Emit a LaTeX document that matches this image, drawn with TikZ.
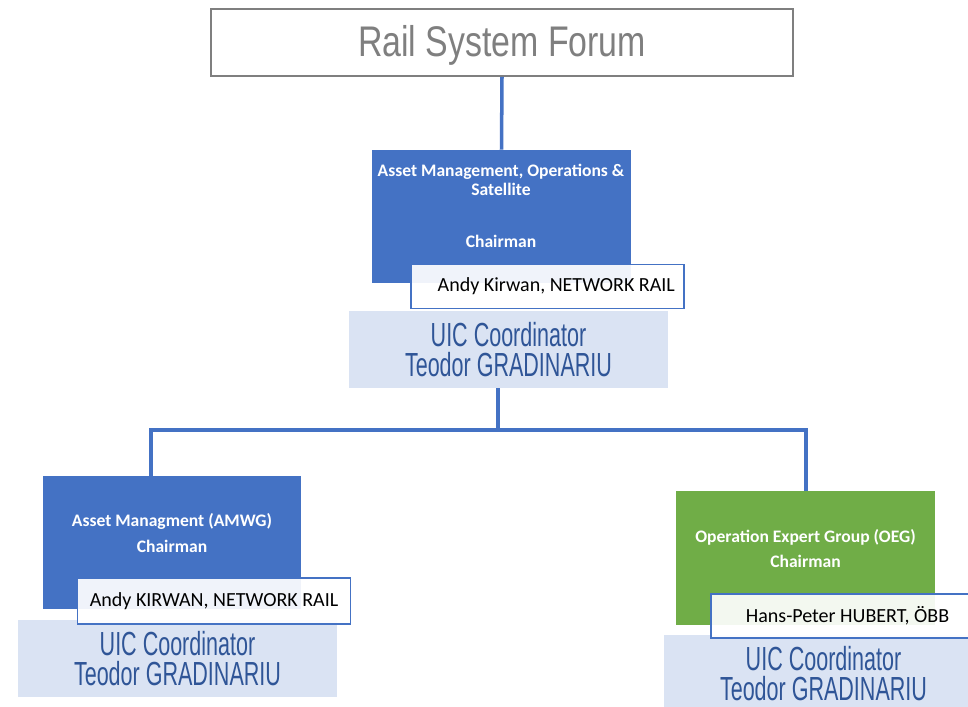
\documentclass[tikz,border=0pt]{standalone}
\usepackage{fontspec}
\setmainfont{Carlito}
\newfontfamily\narrowfont[FakeStretch=0.79]{Liberation Sans}
\newfontfamily\uicfont[FakeStretch=0.645]{Liberation Sans}
\definecolor{wgblue}{HTML}{4472C4}
\definecolor{wggreen}{HTML}{70AD47}
\definecolor{uicfill}{HTML}{DAE3F3}
\definecolor{uictext}{HTML}{2F5597}
\definecolor{forumgray}{HTML}{7F7F7F}

\begin{document}
\begin{tikzpicture}[x=0.02cm,y=-0.02cm,
  forum/.style={draw=forumgray,line width=1.1pt,minimum width=11.64cm,minimum height=1.34cm,text=forumgray,font=\narrowfont\fontsize{24.4}{28}\selectfont},
  group/.style={minimum width=5.18cm,minimum height=2.66cm,inner sep=0pt},
  headtext/.style={text=white,align=center,font=\bfseries\fontsize{10}{10.8}\selectfont},
  namebox/.style={draw=wgblue,line width=1.1pt,fill=white,fill opacity=0.92,text opacity=1,minimum width=5.46cm,minimum height=0.88cm,font=\fontsize{11.4}{13}\selectfont},
  uicbox/.style={fill=uicfill,minimum width=6.38cm,minimum height=1.54cm,align=center,text=uictext,font=\uicfont\fontsize{19}{17.4}\selectfont},
  link/.style={draw=wgblue,line width=2pt}]
\useasboundingbox (0,0) rectangle (968,707);
% forum
\node[forum,text height=21.5pt,text depth=5pt] (RSF) at (502,42.5) {Rail System Forum};
% top group
\node[group,fill=wgblue] (AMO) at (501.5,216.5) {};
\node[headtext] (AMOt) at (501,206) {Asset Management, Operations \&\\Satellite\\[18.7pt]Chairman};
\node[uicbox] (AMOu) at (508.5,349.5) {UIC Coordinator\\Teodor GRADINARIU};
\node[namebox] (AMOn) at (547.5,286.5) {\hspace*{10pt}Andy Kirwan, NETWORK RAIL};
% asset managment
\node[group,fill=wgblue,minimum width=5.16cm] (AMWG) at (172,542.5) {};
\node[headtext,font=\bfseries\fontsize{10}{14.7}\selectfont] (AMWGt) at (172,533) {Asset Managment (AMWG)\\Chairman};
\node[uicbox] (AMWGu) at (177.5,658.5) {UIC Coordinator\\Teodor GRADINARIU};
\node[namebox,minimum height=0.92cm] (AMWGn) at (214,601) {Andy KIRWAN, NETWORK RAIL};
% operation
\node[group,fill=wggreen,minimum height=2.68cm] (OEG) at (805.5,558) {};
\node[headtext,font=\bfseries\fontsize{10}{14.2}\selectfont] (OEGt) at (805.5,548.5) {Operation Expert Group (OEG)\\Chairman};
\node[uicbox] (OEGu) at (823.5,673.5) {UIC Coordinator\\Teodor GRADINARIU};
\node[namebox] (OEGn) at (847.5,616) {Hans-Peter HUBERT, ÖBB};
% links
\coordinate (split) at (498,430);
\coordinate (lft) at (151,430);
\coordinate (rgt) at (806,430);
\draw[link] (RSF.south) -- (AMO.north);
\draw[link] (AMOu.south -| split) -- (split);
\draw[link,line join=miter] (lft |- AMWG.north) -- (lft) -- (rgt) -- (rgt |- OEG.north);
\end{tikzpicture}
\end{document}
